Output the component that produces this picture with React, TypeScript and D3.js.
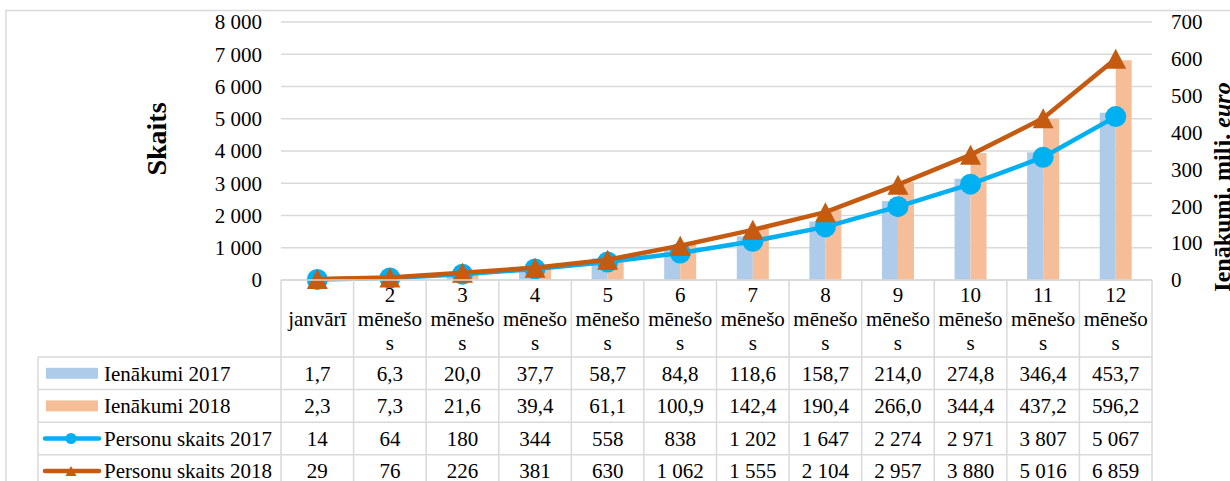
import React, { useMemo } from "react";
import * as d3 from "d3";

// Period labels (cumulative months)
const categories = [
  "janvārī",
  "2 mēnešos",
  "3 mēnešos",
  "4 mēnešos",
  "5 mēnešos",
  "6 mēnešos",
  "7 mēnešos",
  "8 mēnešos",
  "9 mēnešos",
  "10 mēnešos",
  "11 mēnešos",
  "12 mēnešos",
];

// Income, million euro (right axis)
const income2017 = [1.7, 6.3, 20.0, 37.7, 58.7, 84.8, 118.6, 158.7, 214.0, 274.8, 346.4, 453.7];
const income2018 = [2.3, 7.3, 21.6, 39.4, 61.1, 100.9, 142.4, 190.4, 266.0, 344.4, 437.2, 596.2];

// Number of persons (left axis)
const persons2017 = [14, 64, 180, 344, 558, 838, 1202, 1647, 2274, 2971, 3807, 5067];
const persons2018 = [29, 76, 226, 381, 630, 1062, 1555, 2104, 2957, 3880, 5016, 6859];

const countTicks = [0, 1000, 2000, 3000, 4000, 5000, 6000, 7000, 8000];
const incomeTicks = [0, 100, 200, 300, 400, 500, 600, 700];

const seriesNames = ["Ienākumi 2017", "Ienākumi 2018", "Personu skaits 2017", "Personu skaits 2018"];

const COLORS = {
  bar2017: "#AECBEA",
  bar2018: "#F5BE99",
  line2017: "#00B0F0",
  line2018: "#C55A11",
  grid: "#D9D9D9",
  text: "#000000",
};

const FONT = "'Liberation Serif', 'Times New Roman', serif";
const FS = 21;

const lv = d3.formatLocale({
  decimal: ",",
  thousands: " ",
  grouping: [3],
  currency: ["", ""],
});
const fmtInt = lv.format(",d");
const fmtDec = lv.format(",.1f");

const W = 1230;
const H = 481;
const plot = { left: 281, right: 1152, top: 22, bottom: 280 };
const headerBottom = 357;
const rowH = 32.6;
const legendLeft = 38;

function wrapLabel(text: string, maxW: number): string[] {
  const canvas = document.createElement("canvas");
  const ctx = canvas.getContext("2d")!;
  ctx.font = `${FS}px ${FONT}`;
  const words = text.split(" ");
  const lines: string[] = [];
  for (const word of words) {
    if (ctx.measureText(word).width <= maxW) {
      lines.push(word);
    } else {
      let cur = "";
      for (const ch of word) {
        if (ctx.measureText(cur + ch).width > maxW && cur) {
          lines.push(cur);
          cur = ch;
        } else cur += ch;
      }
      if (cur) lines.push(cur);
    }
  }
  return lines;
}

function trianglePath(cx: number, cy: number, w: number, h: number) {
  return `M${cx},${cy - h / 2}L${cx + w / 2},${cy + h / 2}L${cx - w / 2},${cy + h / 2}Z`;
}

export default function App() {
  const x = d3.scaleBand<string>().domain(categories).range([plot.left, plot.right]).padding(0);
  const yCount = d3.scaleLinear().domain([0, 8000]).range([plot.bottom, plot.top]);
  const yIncome = d3.scaleLinear().domain([0, 700]).range([plot.bottom, plot.top]);
  const barW = 16;
  const cx = (c: string) => (x(c) as number) + x.bandwidth() / 2;

  const line = d3
    .line<[number, number]>()
    .x((d) => d[0])
    .y((d) => d[1]);

  const pts2017: [number, number][] = categories.map((c, i) => [cx(c), yCount(persons2017[i])]);
  const pts2018: [number, number][] = categories.map((c, i) => [cx(c), yCount(persons2018[i])]);

  const headerLines = useMemo(
    () => categories.map((c) => wrapLabel(c, x.bandwidth() - 5)),
    // eslint-disable-next-line react-hooks/exhaustive-deps
    []
  );

  const rows = [
    income2017.map(fmtDec),
    income2018.map(fmtDec),
    persons2017.map(fmtInt),
    persons2018.map(fmtInt),
  ];

  const lineH = 24;
  const headerMid = (plot.bottom + headerBottom) / 2;
  const tableBottom = headerBottom + rowH * 4;

  return (
    <svg
      width={W}
      height={H}
      style={{ position: "absolute", left: 0, top: 0, background: "#fff" }}
      fontFamily={FONT}
    >
      <rect x={0} y={0} width={W} height={H} fill="#fff" />
      {/* chart frame */}
      <rect x={6} y={10.5} width={W + 50} height={H + 50} fill="none" stroke={COLORS.grid} strokeWidth={1.5} />

      {/* horizontal gridlines */}
      {countTicks.map((t) => (
        <line
          key={"g" + t}
          x1={plot.left}
          x2={plot.right}
          y1={yCount(t)}
          y2={yCount(t)}
          stroke={COLORS.grid}
          strokeWidth={1.5}
        />
      ))}

      {/* left axis labels */}
      {countTicks.map((t) => (
        <text key={"l" + t} x={262} y={yCount(t)} dy="0.35em" textAnchor="end" fontSize={FS} fill={COLORS.text}>
          {fmtInt(t)}
        </text>
      ))}
      {/* right axis labels */}
      {incomeTicks.map((t) => (
        <text key={"r" + t} x={1171} y={yIncome(t)} dy="0.35em" textAnchor="start" fontSize={FS} fill={COLORS.text}>
          {fmtInt(t)}
        </text>
      ))}

      {/* axis titles */}
      <text
        transform="translate(166,139) rotate(-90)"
        textAnchor="middle"
        fontSize={28}
        fontWeight="bold"
        fill={COLORS.text}
      >
        Skaits
      </text>
      <text
        transform="translate(1230,187) rotate(-90)"
        textAnchor="middle"
        fontSize={24}
        fontWeight="bold"
        fill={COLORS.text}
      >
        Ienākumi, milj. <tspan fontStyle="italic">euro</tspan>
      </text>

      {/* income bars */}
      {categories.map((c, i) => (
        <g key={"b" + c}>
          <rect
            x={cx(c) - barW}
            y={yIncome(income2017[i])}
            width={barW}
            height={plot.bottom - yIncome(income2017[i])}
            fill={COLORS.bar2017}
          />
          <rect
            x={cx(c)}
            y={yIncome(income2018[i])}
            width={barW}
            height={plot.bottom - yIncome(income2018[i])}
            fill={COLORS.bar2018}
          />
        </g>
      ))}

      {/* persons 2017 */}
      <path d={line(pts2017) || ""} fill="none" stroke={COLORS.line2017} strokeWidth={4.5} strokeLinejoin="round" strokeLinecap="round" />
      {pts2017.map((p, i) => (
        <circle key={"c" + i} cx={p[0]} cy={p[1]} r={10.5} fill={COLORS.line2017} />
      ))}

      {/* persons 2018 */}
      <path d={line(pts2018) || ""} fill="none" stroke={COLORS.line2018} strokeWidth={4.5} strokeLinejoin="round" strokeLinecap="round" />
      {pts2018.map((p, i) => (
        <path key={"t" + i} d={trianglePath(p[0], p[1], 21, 20)} fill={COLORS.line2018} />
      ))}

      {/* data table */}
      <g stroke={COLORS.grid} strokeWidth={1.5}>
        <line x1={plot.left} x2={plot.right} y1={plot.bottom} y2={plot.bottom} />
        {d3.range(categories.length + 1).map((k) => {
          const xx = plot.left + k * x.bandwidth();
          return <line key={"v" + k} x1={xx} x2={xx} y1={plot.bottom} y2={H + 10} />;
        })}
        <line x1={legendLeft} x2={legendLeft} y1={headerBottom} y2={H + 10} />
        {d3.range(5).map((r) => {
          const yy = headerBottom + r * rowH;
          return <line key={"h" + r} x1={legendLeft} x2={plot.right} y1={yy} y2={yy} />;
        })}
      </g>

      {/* header labels */}
      {categories.map((c, i) => {
        const lines = headerLines[i];
        const start = headerMid - ((lines.length - 1) * lineH) / 2;
        return (
          <text key={"hd" + c} textAnchor="middle" fontSize={FS} fill={COLORS.text}>
            {lines.map((ln, j) => (
              <tspan key={j} x={cx(c)} y={start + j * lineH} dy="0.35em">
                {ln}
              </tspan>
            ))}
          </text>
        );
      })}

      {/* row values */}
      {rows.map((vals, r) =>
        vals.map((v, i) => (
          <text
            key={"v" + r + "-" + i}
            x={cx(categories[i])}
            y={headerBottom + r * rowH + rowH / 2}
            dy="0.35em"
            textAnchor="middle"
            fontSize={FS}
            fill={COLORS.text}
          >
            {v}
          </text>
        ))
      )}

      {/* legend keys + names */}
      {seriesNames.map((name, r) => {
        const cy = headerBottom + r * rowH + rowH / 2;
        let key: React.ReactNode = null;
        if (r === 0 || r === 1) {
          key = <rect x={46} y={cy - 5.5} width={52} height={11} fill={r === 0 ? COLORS.bar2017 : COLORS.bar2018} />;
        } else if (r === 2) {
          key = (
            <g>
              <line x1={45} x2={99} y1={cy} y2={cy} stroke={COLORS.line2017} strokeWidth={4.5} strokeLinecap="round" />
              <circle cx={71} cy={cy} r={5.5} fill={COLORS.line2017} />
            </g>
          );
        } else {
          key = (
            <g>
              <line x1={45} x2={99} y1={cy} y2={cy} stroke={COLORS.line2018} strokeWidth={4.5} strokeLinecap="round" />
              <path d={trianglePath(71, cy, 11, 10)} fill={COLORS.line2018} />
            </g>
          );
        }
        return (
          <g key={"lg" + r}>
            {key}
            <text x={104} y={cy} dy="0.35em" fontSize={FS} fill={COLORS.text}>
              {name}
            </text>
          </g>
        );
      })}
    </svg>
  );
}
